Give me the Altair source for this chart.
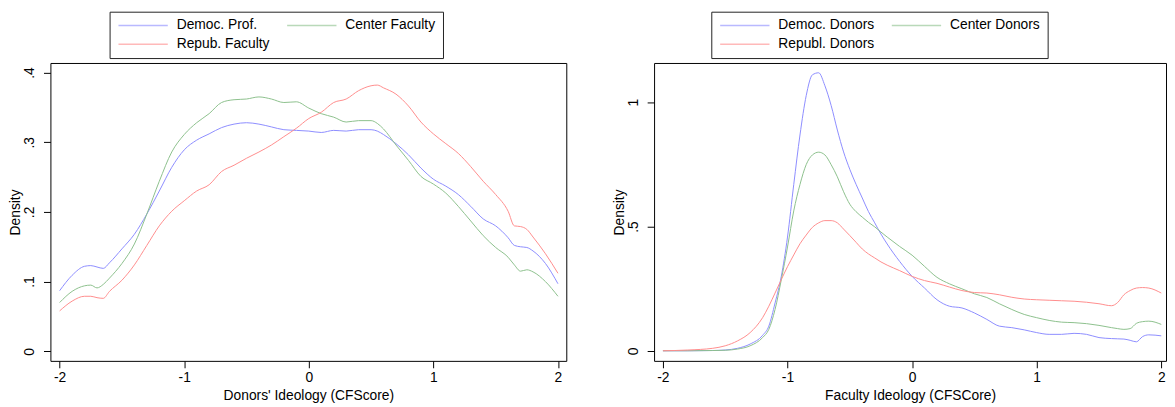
import altair as alt
import pandas as pd

FONT = "Liberation Sans"
BLUE = "#8c8cff"
GREEN = "#8cc08c"
RED = "#ff8c8c"

# ---------------- Left panel: Donors' ideology ----------------
left_names = ["Democ. Prof.", "Center Faculty", "Repub. Faculty"]
left_x = [-2, -1.9, -1.8, -1.75, -1.7, -1.65, -1.6, -1.5, -1.4, -1.3, -1.2, -1.1,
          -1.0, -0.9, -0.8, -0.7, -0.6, -0.5, -0.4, -0.3, -0.2, -0.1, 0, 0.1, 0.2,
          0.3, 0.4, 0.5, 0.55, 0.6, 0.7, 0.8, 0.9, 1.0, 1.1, 1.2, 1.3, 1.4, 1.5,
          1.6, 1.65, 1.7, 1.75, 1.8, 1.9, 2.0]
left_democ = [0.087, 0.109, 0.122, 0.123, 0.121, 0.119, 0.127, 0.147, 0.168, 0.197,
              0.230, 0.264, 0.289, 0.303, 0.312, 0.321, 0.326, 0.328, 0.326, 0.322,
              0.318, 0.317, 0.316, 0.314, 0.317, 0.316, 0.318, 0.318, 0.316, 0.311,
              0.298, 0.282, 0.263, 0.247, 0.237, 0.225, 0.208, 0.190, 0.180, 0.163,
              0.152, 0.150, 0.149, 0.144, 0.126, 0.097]
left_center = [0.070, 0.086, 0.094, 0.095, 0.091, 0.096, 0.105, 0.126, 0.154, 0.197,
               0.244, 0.286, 0.311, 0.328, 0.341, 0.357, 0.361, 0.362, 0.365, 0.362,
               0.357, 0.358, 0.349, 0.341, 0.336, 0.329, 0.331, 0.331, 0.327, 0.319,
               0.296, 0.274, 0.251, 0.240, 0.227, 0.208, 0.187, 0.166, 0.149, 0.135,
               0.124, 0.115, 0.117, 0.114, 0.100, 0.079]
left_repub = [0.058, 0.072, 0.079, 0.079, 0.077, 0.076, 0.086, 0.102, 0.124, 0.152,
              0.180, 0.201, 0.216, 0.230, 0.239, 0.258, 0.267, 0.277, 0.286, 0.296,
              0.308, 0.320, 0.334, 0.343, 0.357, 0.362, 0.374, 0.381, 0.382, 0.378,
              0.369, 0.352, 0.329, 0.312, 0.298, 0.284, 0.265, 0.244, 0.225, 0.201,
              0.180, 0.179, 0.175, 0.164, 0.140, 0.112]

# ---------------- Right panel: Faculty ideology ----------------
right_names = ["Democ. Donors", "Center Donors", "Republ. Donors"]
right_x = [-2, -1.8, -1.6, -1.5, -1.4, -1.3, -1.2, -1.15, -1.1, -1.05, -1.0, -0.95,
           -0.9, -0.85, -0.8, -0.75, -0.7, -0.65, -0.6, -0.55, -0.5, -0.45, -0.4,
           -0.35, -0.3, -0.25, -0.2, -0.1, 0, 0.1, 0.2, 0.3, 0.4, 0.5, 0.6, 0.7,
           0.8, 0.9, 1.0, 1.1, 1.2, 1.3, 1.4, 1.5, 1.6, 1.65, 1.7, 1.75, 1.8, 1.85,
           1.9, 2.0]
right_democ = [0.001, 0.001, 0.002, 0.004, 0.011, 0.028, 0.063, 0.100, 0.193, 0.300,
               0.458, 0.669, 0.868, 1.026, 1.110, 1.118, 1.066, 0.987, 0.888, 0.800,
               0.730, 0.670, 0.615, 0.560, 0.515, 0.470, 0.430, 0.360, 0.300, 0.253,
               0.206, 0.180, 0.173, 0.153, 0.127, 0.100, 0.094, 0.085, 0.074, 0.067,
               0.067, 0.071, 0.067, 0.054, 0.050, 0.049, 0.048, 0.043, 0.037, 0.058,
               0.065, 0.061]
right_center = [0.001, 0.001, 0.002, 0.003, 0.008, 0.021, 0.054, 0.087, 0.167, 0.286,
                0.418, 0.563, 0.669, 0.749, 0.788, 0.799, 0.788, 0.749, 0.700, 0.640,
                0.590, 0.560, 0.538, 0.517, 0.499, 0.478, 0.458, 0.420, 0.385, 0.340,
                0.296, 0.270, 0.250, 0.230, 0.215, 0.190, 0.167, 0.147, 0.134, 0.123,
                0.116, 0.114, 0.110, 0.103, 0.094, 0.090, 0.087, 0.090, 0.111, 0.118,
                0.120, 0.107]
right_repub = [0.001, 0.004, 0.011, 0.021, 0.041, 0.074, 0.134, 0.180, 0.233, 0.287,
               0.339, 0.386, 0.431, 0.466, 0.497, 0.515, 0.524, 0.524, 0.515, 0.490,
               0.464, 0.437, 0.410, 0.390, 0.374, 0.358, 0.345, 0.323, 0.300, 0.283,
               0.272, 0.257, 0.243, 0.235, 0.233, 0.226, 0.216, 0.209, 0.206, 0.204,
               0.202, 0.200, 0.196, 0.190, 0.182, 0.195, 0.226, 0.243, 0.253, 0.255,
               0.253, 0.233]

x_ticks = [-2, -1, 0, 1, 2]


def long_df(xs, names, series):
    rows = []
    for name, ys in zip(names, series):
        for xi, yi in zip(xs, ys):
            rows.append({"x": xi, "y": yi, "s": name})
    return pd.DataFrame(rows)


def panel(df, names, xtitle, xdom, ydom, yticks, legx, legy, width, height):
    return alt.Chart(df).mark_line(strokeWidth=1, interpolate="monotone").encode(
        x=alt.X("x:Q",
                scale=alt.Scale(domain=xdom, nice=False, zero=False),
                axis=alt.Axis(values=x_ticks, title=xtitle,
                              labelExpr="'' + datum.value")),
        y=alt.Y("y:Q",
                scale=alt.Scale(domain=ydom, nice=False, zero=False),
                axis=alt.Axis(values=yticks, title="Density", labelAngle=270,
                              labelPadding=7, titlePadding=0,
                              labelExpr="replace(format(datum.value, '~g'), '0.', '.')")),
        color=alt.Color("s:N",
                        scale=alt.Scale(domain=names, range=[BLUE, GREEN, RED]),
                        legend=alt.Legend(
                            orient="none", legendX=legx, legendY=legy,
                            columns=2, direction="horizontal", title=None,
                            symbolType="M-1,0H9", symbolSize=100,
                            symbolStrokeWidth=1.5, symbolOpacity=0.6,
                            labelFont=FONT, labelFontSize=14, labelColor="black",
                            labelOffset=47, columnPadding=14, rowPadding=5,
                            padding=7, strokeColor="#222222", fillColor="white",
                            cornerRadius=0)),
    ).properties(width=width, height=height)


left = panel(long_df(left_x, left_names, [left_democ, left_center, left_repub]),
             left_names, "Donors' Ideology (CFScore)",
             [-2.074, 2.067], [-0.0137, 0.4137], [0, 0.1, 0.2, 0.3, 0.4],
             60, -52, 523, 302)

right = panel(long_df(right_x, right_names, [right_democ, right_center, right_repub]),
              right_names, "Faculty Ideology (CFSCore)",
              [-2.071, 2.038], [-0.0396, 1.1574], [0, 0.5, 1],
              58, -52, 519, 302)

chart = alt.hconcat(left, right, spacing=45).resolve_scale(
    color="independent").resolve_legend(color="independent").properties(
    padding={"left": 0, "top": 0, "right": 0, "bottom": 0}
).configure_view(
    stroke="black", strokeWidth=1
).configure_axis(
    grid=False, domain=False,
    tickColor="black", tickSize=7, tickWidth=1,
    labelFont=FONT, labelFontSize=14, labelColor="black", labelPadding=3,
    titleFont=FONT, titleFontSize=14, titleColor="black",
    titleFontWeight="normal", titlePadding=4,
)

chart.save("out.html", embed_options={"renderer": "svg", "actions": False})
